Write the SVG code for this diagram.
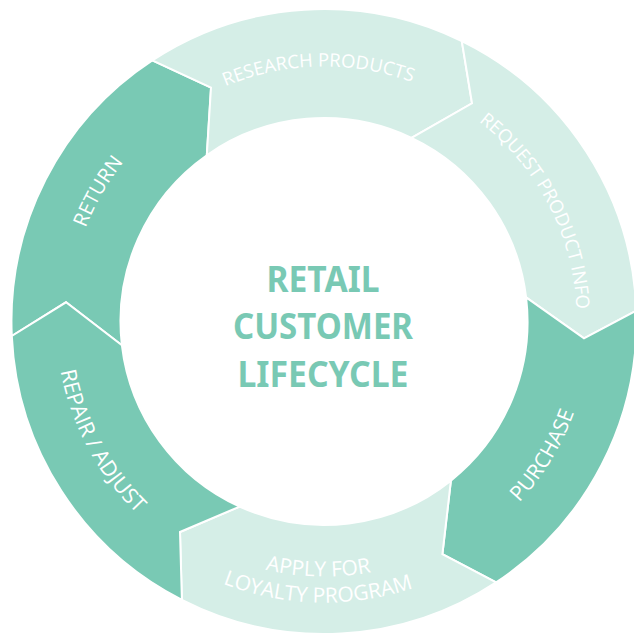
<svg xmlns="http://www.w3.org/2000/svg" width="634" height="634" viewBox="0 0 634 634">
  <style>
    .seg { stroke: #ffffff; stroke-width: 2; stroke-linejoin: miter; }
    .dark { fill: #79C9B4; }
    .light { fill: #D5EEE7; }
    .lbl { font-family: "Open Sans", "Noto Sans", sans-serif; font-weight: 400; font-size: 18.5px; fill: #ffffff; text-anchor: middle; }
    .big { font-size: 21px; }
    .title { font-family: "Noto Sans", "Open Sans", sans-serif; font-weight: 700; font-size: 35px; fill: #79C9B4; text-anchor: middle; }
  </style>
  <defs>
    <path id="p-research" d="M 82.5,239.7 A 255 255 0 0 1 561.6,228.9" fill="none"/>
    <path id="p-request" d="M 291.0,70.7 A 253 253 0 0 1 510.5,492.4" fill="none"/>
    <path id="p-purchase" d="M 271.4,582.3 A 266 266 0 0 0 531.9,155.5" fill="none"/>
    <path id="p-apply1" d="M 82.5,403.3 A 255 255 0 0 0 561.6,414.1" fill="none"/>
    <path id="p-apply2" d="M 57.8,411.6 A 281 281 0 0 0 585.8,423.6" fill="none"/>
    <path id="p-repair" d="M 124.2,142.9 A 268 268 0 0 0 362.2,586.8" fill="none"/>
    <path id="p-return" d="M 127.9,486.1 A 256 256 0 0 1 368.4,69.4" fill="none"/>
  </defs>

  <g id="return">
    <path class="seg dark" d="M 11.8,336.0 A 312.5 312.5 0 0 1 152.3,60.4 L 211,87.7 L 206.8,155.2 A 203.5 203.5 0 0 0 121.9,345.3 L 66,302.3 Z"/>
    <text class="lbl" style="font-size:20px"><textPath href="#p-return" startOffset="50%">RETURN</textPath></text>
  </g>
  <g id="research-products">
    <path class="seg light" d="M 152.3,60.4 A 312.5 312.5 0 0 1 461.8,41.1 L 472,103.3 L 411.5,137.8 A 203.5 203.5 0 0 0 206.8,155.2 L 211,87.7 Z"/>
    <text class="lbl"><textPath href="#p-research" startOffset="50%">RESEARCH PRODUCTS</textPath></text>
  </g>
  <g id="request-product-info">
    <path class="seg light" d="M 461.8,41.1 A 312.5 312.5 0 0 1 636.3,310.6 L 584,338.3 L 526.1,297.4 A 203.5 203.5 0 0 0 411.5,137.8 L 472,103.3 Z"/>
    <text class="lbl"><textPath href="#p-request" startOffset="50%">REQUEST PRODUCT INFO</textPath></text>
  </g>
  <g id="purchase">
    <path class="seg dark" d="M 636.3,310.6 A 312.5 312.5 0 0 1 496.1,582.4 L 442.4,554.2 L 450.9,480.6 A 203.5 203.5 0 0 0 526.1,297.4 L 584,338.3 Z"/>
    <text class="lbl big"><textPath href="#p-purchase" startOffset="50%">PURCHASE</textPath></text>
  </g>
  <g id="apply-loyalty">
    <path class="seg light" d="M 496.1,582.4 A 312.5 312.5 0 0 1 181.9,599.9 L 180,532 L 239.6,506.6 A 203.5 203.5 0 0 0 450.9,480.6 L 442.4,554.2 Z"/>
    <text class="lbl big"><textPath href="#p-apply1" startOffset="50%">APPLY FOR</textPath></text>
    <text class="lbl big"><textPath href="#p-apply2" startOffset="50%">LOYALTY PROGRAM</textPath></text>
  </g>
  <g id="repair-adjust">
    <path class="seg dark" d="M 181.9,599.9 A 312.5 312.5 0 0 1 11.8,336.0 L 66,302.3 L 121.9,345.3 A 203.5 203.5 0 0 0 239.6,506.6 L 180,532 Z"/>
    <text class="lbl" style="font-size:21.5px"><textPath href="#p-repair" startOffset="50%">REPAIR / ADJUST</textPath></text>
  </g>

  <g id="title">
    <text class="title" x="323" y="291.7" textLength="113" lengthAdjust="spacingAndGlyphs">RETAIL</text>
    <text class="title" x="323" y="339.3" textLength="180" lengthAdjust="spacingAndGlyphs">CUSTOMER</text>
    <text class="title" x="323" y="386.7" textLength="171" lengthAdjust="spacingAndGlyphs">LIFECYCLE</text>
  </g>
</svg>
